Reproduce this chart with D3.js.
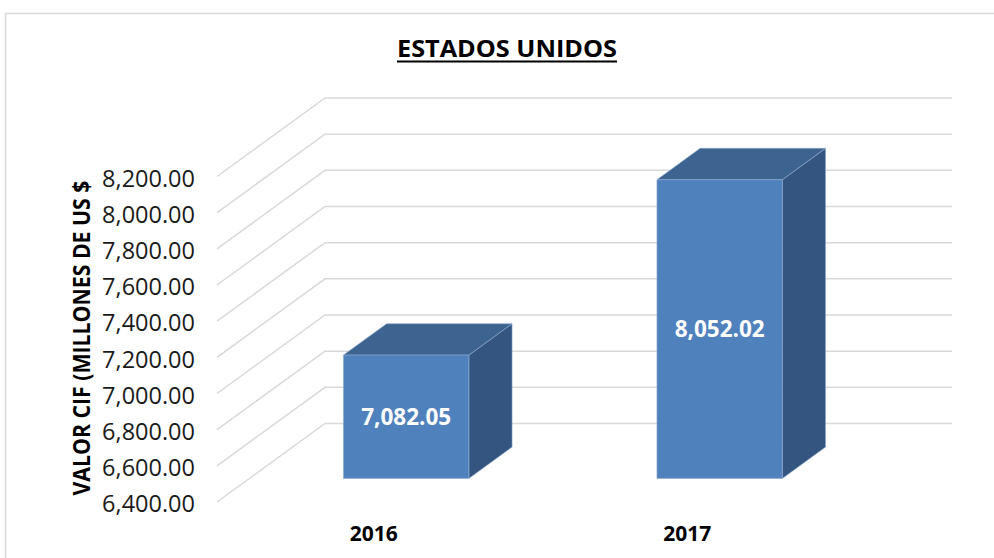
<!DOCTYPE html>
<html>
<head>
<meta charset="utf-8">
<script src="https://cdn.jsdelivr.net/npm/d3@7"></script>
<style>
  body { margin: 0; background: #fff; }
  svg { display: block; }
</style>
</head>
<body>
<svg id="chartSVG" width="994" height="558"></svg>
<script>
// chart data
const categories = ["2016", "2017"];
const values = [7082.05, 8052.02];
const yTicks = [6400, 6600, 6800, 7000, 7200, 7400, 7600, 7800, 8000, 8200];
const chartTitle = "ESTADOS UNIDOS";
const yTitle = "VALOR CIF (MILLONES DE US $";

// depth of the 3D box (back wall = front + offset)
const depthX = 108, depthY = -78.5;
const barFront = 0.3, barBack = 0.7;

const svg = d3.select("#chartSVG");

// outer frame
svg.append("rect")
  .attr("x", 5.5).attr("y", 13.5)
  .attr("width", 1000).attr("height", 600)
  .attr("fill", "none").attr("stroke", "#d9d9d9").attr("stroke-width", 1.5);

// scales on the back wall
const y = d3.scaleLinear().domain([6400, 8200]).range([423.5, 98]);
const x = d3.scaleBand().domain(categories).range([325, 952])
  .paddingInner(0.6).paddingOuter(0.3);

// project a point at depth f (0 = front, 1 = back)
function px(xb, f) { return xb - (1 - f) * depthX; }
function py(v, f) { return y(v) - (1 - f) * depthY; }

// gridlines: side wall diagonal then back wall horizontal
const grid = svg.append("g");
yTicks.forEach(t => {
  grid.append("path")
    .attr("d", d3.line()([[px(325, 0), py(t, 0)], [325, y(t)], [952, y(t)]]))
    .attr("fill", "none").attr("stroke", "#d9d9d9").attr("stroke-width", 1.5);
});

// tick labels
svg.append("g").selectAll("text").data(yTicks).join("text")
  .attr("x", 195)
  .attr("y", d => py(d, 0) + 2)
  .attr("dy", "0.35em")
  .attr("text-anchor", "end")
  .attr("font-family", "'Open Sans', sans-serif")
  .attr("font-size", 23.5)
  .attr("fill", "#1a1a1a")
  .text(d => d3.format(",.2f")(d));

// axis title
svg.append("text")
  .attr("transform", "translate(90,338) rotate(-90)")
  .attr("text-anchor", "middle")
  .attr("font-family", "'Open Sans', sans-serif")
  .attr("font-weight", "bold")
  .attr("font-size", 23)
  .attr("textLength", 315)
  .attr("lengthAdjust", "spacingAndGlyphs")
  .text(yTitle);

// chart title
svg.append("text")
  .attr("x", 507).attr("y", 57)
  .attr("text-anchor", "middle")
  .attr("font-family", "'Open Sans', sans-serif")
  .attr("font-weight", "bold")
  .attr("font-size", 24)
  .attr("textLength", 220)
  .attr("lengthAdjust", "spacingAndGlyphs")
  .text(chartTitle);
svg.append("line")
  .attr("x1", 397).attr("x2", 617).attr("y1", 61.5).attr("y2", 61.5)
  .attr("stroke", "#000").attr("stroke-width", 2);

// bars
const bars = svg.append("g");
categories.forEach((c, i) => {
  const x0 = x(c), x1 = x(c) + x.bandwidth(), v = values[i], base = 6400;
  const edge = "#8fa9cf";
  // side face
  bars.append("path")
    .attr("d", d3.line()([
      [px(x1, barFront), py(base, barFront)], [px(x1, barBack), py(base, barBack)],
      [px(x1, barBack), py(v, barBack)], [px(x1, barFront), py(v, barFront)]]) + "Z")
    .attr("fill", "#335580").attr("stroke", edge).attr("stroke-width", 0.6);
  // top face
  bars.append("path")
    .attr("d", d3.line()([
      [px(x0, barFront), py(v, barFront)], [px(x0, barBack), py(v, barBack)],
      [px(x1, barBack), py(v, barBack)], [px(x1, barFront), py(v, barFront)]]) + "Z")
    .attr("fill", "#3d6490").attr("stroke", edge).attr("stroke-width", 0.6);
  // front face
  bars.append("path")
    .attr("d", d3.line()([
      [px(x0, barFront), py(base, barFront)], [px(x1, barFront), py(base, barFront)],
      [px(x1, barFront), py(v, barFront)], [px(x0, barFront), py(v, barFront)]]) + "Z")
    .attr("fill", "#4f81bd").attr("stroke", edge).attr("stroke-width", 0.6);
  // value label
  bars.append("text")
    .attr("x", px(x0 + x.bandwidth() / 2, barFront))
    .attr("y", (py(base, barFront) + py(v, barFront)) / 2)
    .attr("dy", "0.35em")
    .attr("text-anchor", "middle")
    .attr("font-family", "'Open Sans', sans-serif")
    .attr("font-weight", "bold")
    .attr("font-size", 22.5)
    .attr("fill", "#fff")
    .text(d3.format(",.2f")(v));
});

// category labels along the front edge of the floor
svg.append("g").selectAll("text").data(categories).join("text")
  .attr("x", d => px(x(d) + x.bandwidth() / 2, 0))
  .attr("y", 534)
  .attr("dy", "0.35em")
  .attr("text-anchor", "middle")
  .attr("font-family", "'Open Sans', sans-serif")
  .attr("font-weight", "bold")
  .attr("font-size", 21)
  .attr("fill", "#000")
  .text(d => d);
</script>
</body>
</html>
